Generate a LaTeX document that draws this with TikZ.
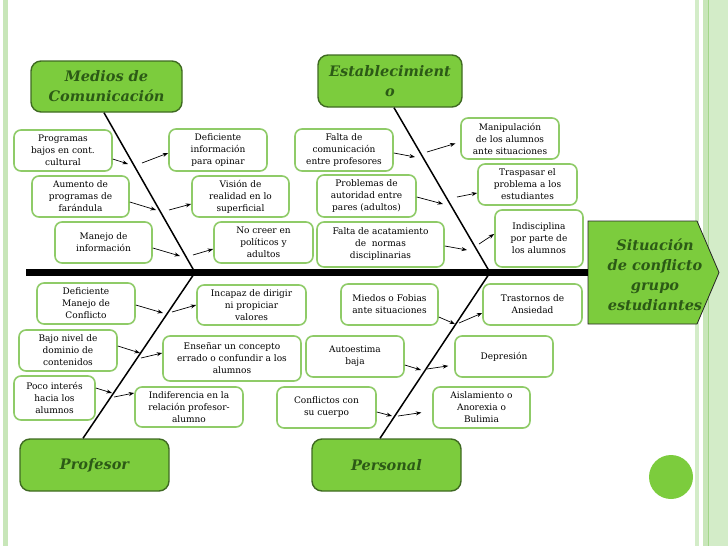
\documentclass[tikz,border=0pt]{standalone}
\usepackage{fontspec}
\setmainfont{DejaVu Serif}
\usepackage{xcolor}
\usetikzlibrary{arrows.meta,calc,positioning}
\definecolor{catfill}{HTML}{7CCC3D}
\definecolor{catline}{HTML}{3F6A22}
\definecolor{cattext}{HTML}{2C5A16}
\definecolor{boxline}{HTML}{8FCB68}
\definecolor{stripe}{HTML}{C8E6B9}
\definecolor{stripedark}{HTML}{A3D68A}
\definecolor{stripelight}{HTML}{D3ECC8}
\begin{document}
\begin{tikzpicture}[x=1pt, y=-1pt,
	cause/.style={draw=boxline, line width=1.6pt, fill=white, rounded corners=7pt, align=center,
		minimum width=98pt, minimum height=41pt, inner sep=2pt, font=\fontsize{9}{12}\selectfont},
	category/.style={draw=catline, line width=1.4pt, fill=catfill, rounded corners=10pt, align=center,
		minimum width=149pt, minimum height=52pt, inner sep=2pt, text=cattext,
		font=\fontsize{14.5}{20}\selectfont\bfseries\itshape},
	bone/.style={line width=1.5pt},
	arr/.style={line width=0.7pt, -{Stealth[length=5.5pt,width=4pt]}}]
		\useasboundingbox (0,0) rectangle (728,546);
		% slide border
		\fill[stripe] (3,0) rectangle (8,546);
		\fill[stripelight] (695,0) rectangle (698.5,546);
		\fill[stripe] (703,0) rectangle (707.5,546);
		\fill[stripedark] (707.5,0) rectangle (709,546);
		\fill[stripelight] (709,0) rectangle (728,546);
		\fill[catfill] (671,477) circle (22pt);
		% head
		\draw[fill=catfill, draw=black!85, line width=0.8pt] (588,221) -- (697,221) -- (719,272.5) -- (697,324) -- (588,324) -- cycle;
		\node[text=cattext, align=center, font=\fontsize{14.5}{20}\selectfont\bfseries\itshape] (headtxt) at (655,274.5) {Situación\\de conflicto\\grupo\\estudiantes};
		% spine
		\coordinate (tail) at (26,272.5);
		\coordinate (headw) at (588,272.5);
		\coordinate (jm) at (195,272.5);
		\coordinate (js) at (490,272.5);
		\draw[line width=7pt] (tail) -- (headw);
		% categories
		\node[category, minimum width=151pt, minimum height=51pt] (medios) at (106.5,86.5) {Medios de\\Comunicación};
		\node[category, minimum width=144pt] (estab) at (390,81) {Establecimient\\o};
		\node[category] (profesor) at (94.5,465) {Profesor};
		\node[category] (personal) at (386.5,465) {Personal};
		% bones
		\draw[bone] ([xshift=-2.5pt]medios.south) -- (jm);
		\draw[bone] (jm) -- ([xshift=-11.5pt]profesor.north);
		\draw[bone] ([xshift=4pt]estab.south) -- (js);
		\draw[bone] (js) -- ([xshift=-6.5pt]personal.north);
		% Medios de Comunicacion
		\node[cause] (m1) at (63,150.5) {Programas\\bajos en cont.\\cultural};
		\node[cause, minimum width=97pt] (m2) at (80.5,196.5) {Aumento de\\programas de\\farándula};
		\node[cause, minimum width=97pt] (m3) at (103.5,242.5) {Manejo de\\información};
		\node[cause, minimum height=42pt] (me1) at (218,150) {Deficiente\\información\\para opinar};
		\node[cause, minimum width=97pt] (me2) at (240.5,196.5) {Visión de\\realidad en lo\\superficial};
		\node[cause, minimum width=99pt] (me3) at (263.5,242.5) {No creer en\\políticos y\\adultos};
		% Establecimiento
		\node[cause, minimum height=42pt] (e1) at (344,150) {Falta de\\comunicación\\entre profesores};
		\node[cause, minimum width=99pt, minimum height=42pt] (e2) at (366.5,196) {Problemas de\\autoridad entre\\pares (adultos)};
		\node[cause, minimum width=127pt, minimum height=45pt] (e3) at (380.5,244.5) {Falta de acatamiento\\de~ normas\\disciplinarias};
		\node[cause] (ee1) at (510,138.5) {Manipulación\\de los alumnos\\ante situaciones};
		\node[cause, minimum width=99pt] (ee2) at (527.5,184.5) {Traspasar el\\problema a los\\estudiantes};
		\node[cause, minimum width=88pt, minimum height=57pt] (ee3) at (539,238.5) {Indisciplina\\por parte de\\los alumnos};
		% Profesor
		\node[cause] (p1) at (86,303.5) {Deficiente\\Manejo de\\Conflicto};
		\node[cause] (p2) at (68,350.5) {Bajo nivel de\\dominio de\\contenidos};
		\node[cause, minimum width=81pt, minimum height=44pt] (p3) at (54.5,398) {Poco interés\\hacia los\\alumnos};
		\node[cause, minimum width=109pt, minimum height=40pt] (pe1) at (251.5,305) {Incapaz de dirigir\\ni propiciar\\valores};
		\node[cause, minimum width=138pt, minimum height=45pt] (pe2) at (232,358.5) {Enseñar un concepto\\errado o confundir a los\\alumnos};
		\node[cause, minimum width=108pt, minimum height=40pt] (pe3) at (189,407) {Indiferencia en la\\relación profesor-\\alumno};
		% Personal
		\node[cause, minimum width=97pt] (s1) at (389.5,304.5) {Miedos o Fobias\\ante situaciones};
		\node[cause] (s2) at (355,356.5) {Autoestima\\baja};
		\node[cause, minimum width=99pt] (s3) at (326.5,407.5) {Conflictos con\\su cuerpo};
		\node[cause, minimum width=99pt] (se1) at (532.5,304.5) {Trastornos de\\Ansiedad};
		\node[cause] (se2) at (504,356.5) {Depresión};
		\node[cause, minimum width=97pt] (se3) at (481.5,407.5) {Aislamiento o\\Anorexia o\\Bulimia};
		% arrow ends at the bones
		\coordinate (m1a) at (128,164); \coordinate (m1b) at (142,163);
		\coordinate (m2a) at (156,210); \coordinate (m2b) at (169,210);
		\coordinate (m3a) at (180,256); \coordinate (m3b) at (193,255);
		\coordinate (e1a) at (415,157); \coordinate (e1b) at (427,152);
		\coordinate (e2a) at (443,204); \coordinate (e2b) at (457,197);
		\coordinate (e3a) at (467,250); \coordinate (e3b) at (479,244);
		\coordinate (p1a) at (163,313); \coordinate (p1b) at (172,312);
		\coordinate (p2a) at (140,353); \coordinate (p2b) at (141,358);
		\coordinate (p3a) at (112,393); \coordinate (p3b) at (114,397);
		\coordinate (s1a) at (455,324); \coordinate (s1b) at (459,323);
		\coordinate (s2a) at (421,370); \coordinate (s2b) at (427,369);
		\coordinate (s3a) at (392,416); \coordinate (s3b) at (398,416);
		% arrows
		\draw[arr] ([yshift=-8.5pt]m1.east) -- (m1a);
		\draw[arr] (m1b) -- ([yshift=-3pt]me1.west);
		\draw[arr] ([yshift=-5.5pt]m2.east) -- (m2a);
		\draw[arr] (m2b) -- ([yshift=-7.5pt]me2.west);
		\draw[arr] ([yshift=-5.5pt]m3.east) -- (m3a);
		\draw[arr] (m3b) -- ([yshift=-6.5pt]me3.west);
		\draw[arr] ([yshift=-3pt]e1.east) -- (e1a);
		\draw[arr, shorten >=5pt] (e1b) -- ([yshift=-3.5pt]ee1.west);
		\draw[arr] ([yshift=-1pt]e2.east) -- (e2a);
		\draw[arr] (e2b) -- ([yshift=-8.5pt]ee2.west);
		\draw[arr] ([yshift=-1.5pt]e3.east) -- (e3a);
		\draw[arr] (e3b) -- ([yshift=4.5pt]ee3.west);
		\draw[arr] ([yshift=-1.5pt]p1.east) -- (p1a);
		\draw[arr] (p1b) -- (pe1.west);
		\draw[arr] ([yshift=4.5pt]p2.east) -- (p2a);
		\draw[arr] (p2b) -- ([yshift=5.5pt]pe2.west);
		\draw[arr] ([yshift=10pt]p3.east) -- (p3a);
		\draw[arr] (p3b) -- ([yshift=14pt]pe3.west);
		\draw[arr] ([yshift=-12.5pt]s1.east) -- (s1a);
		\draw[arr] (s1b) -- ([yshift=-8.5pt]se1.west);
		\draw[arr] ([yshift=-8.5pt]s2.east) -- (s2a);
		\draw[arr, shorten >=6pt] (s2b) -- ([yshift=-8.5pt]se2.west);
		\draw[arr] ([yshift=-4.5pt]s3.east) -- (s3a);
		\draw[arr, shorten >=11pt] (s3b) -- ([yshift=-3.5pt]se3.west);
	\end{tikzpicture}
\end{document}
